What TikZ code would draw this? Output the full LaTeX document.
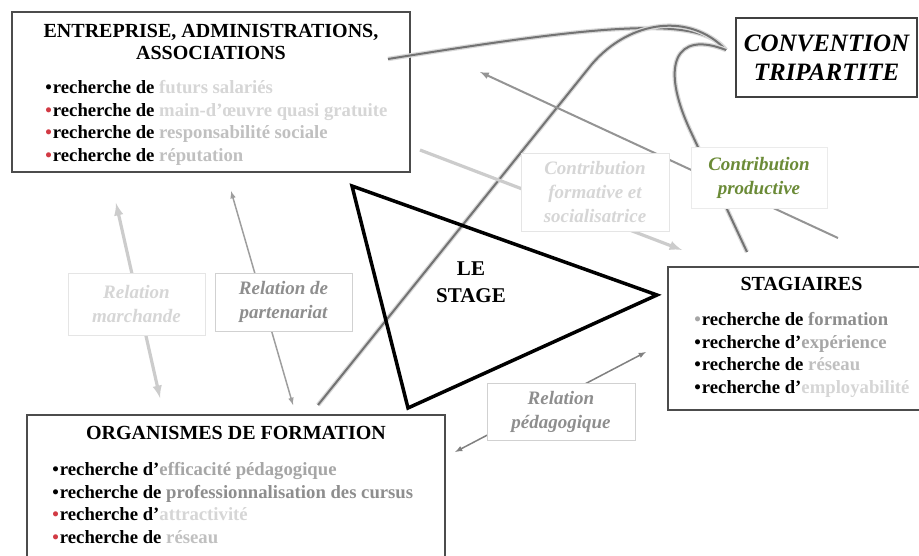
\documentclass[tikz,border=0pt]{standalone}
\usepackage{fontspec}
\setmainfont{Liberation Serif}
\usetikzlibrary{positioning}

\definecolor{rougepuce}{HTML}{D23A44}
\definecolor{vertprod}{HTML}{6B8B37}
\definecolor{grisA}{HTML}{D6D6D6}
\definecolor{grisB}{HTML}{C0C0C0}
\definecolor{grisC}{HTML}{A6A6A6}
\definecolor{grisD}{HTML}{8E8E8E}

\newcommand{\puce}[1]{\textcolor{#1}{\textbullet}\kern1pt}
\newcommand{\cle}[2]{\textcolor{#1}{#2}}

\tikzset{
  cadre/.style={draw=black!70, line width=1.6pt, fill=white, inner sep=0pt},
  titre/.style={font=\fontsize{20}{22.5}\selectfont\bfseries, align=center, inner sep=0pt},
  liste/.style={font=\fontsize{18.7}{22.5}\selectfont\bfseries, align=left, inner sep=0pt},
  etiquette/.style={draw=black!18, line width=0.8pt, fill=white, inner sep=0pt,
    font=\fontsize{19}{24}\selectfont\bfseries\itshape, align=center},
  convention/.style={draw=black!55, line width=2pt, preaction={draw=black!15, line width=4.5pt}},
}

\begin{document}
\begin{tikzpicture}[x=1pt,y=-1pt]
\useasboundingbox (0,0) rectangle (919,556);
\clip (0,0) rectangle (919,556);

% les trois acteurs
\node[cadre, minimum width=398pt, minimum height=160pt] (entreprise) at (211,92) {};
\node[titre, below=12.5pt of entreprise.north] (titreE) {ENTREPRISE, ADMINISTRATIONS,\\ASSOCIATIONS};
\node[liste, below right=69pt and 34pt of entreprise.north west] (listeE) {%
  \puce{black}recherche de \cle{grisA}{futurs salariés}\\
  \puce{rougepuce}recherche de \cle{grisA}{main-d’œuvre quasi gratuite}\\
  \puce{rougepuce}recherche de \cle{grisB}{responsabilité sociale}\\
  \puce{rougepuce}recherche de \cle{grisB}{réputation}};

\node[cadre, minimum width=267pt, minimum height=143pt] (stagiaires) at (801.5,338.5) {};
\node[titre, below=10.7pt of stagiaires.north] (titreS) {STAGIAIRES};
\node[liste, below right=46pt and 27pt of stagiaires.north west] (listeS) {%
  \puce{grisC}recherche de \cle{grisD}{formation}\\
  \puce{black}recherche d’\cle{grisC}{expérience}\\
  \puce{black}recherche de \cle{grisB}{réseau}\\
  \puce{black}recherche d’\cle{grisA}{employabilité}};

\node[cadre, minimum width=418pt, minimum height=160pt] (organismes) at (236,495) {};
\node[titre, below=11.7pt of organismes.north] (titreO) {ORGANISMES DE FORMATION};
\node[liste, below right=48pt and 26pt of organismes.north west] (listeO) {%
  \puce{black}recherche d’\cle{grisC}{efficacité pédagogique}\\
  \puce{black}recherche de \cle{grisD}{professionnalisation des cursus}\\
  \puce{rougepuce}recherche d’\cle{grisA}{attractivité}\\
  \puce{rougepuce}recherche de \cle{grisB}{réseau}};

\node[draw=black!75, line width=1.4pt, minimum width=181pt, minimum height=79pt, inner sep=0pt,
  font=\fontsize{25}{29}\selectfont\bfseries\itshape, align=center] (tripartite) at (826.5,57.5)
  {CONVENTION\\TRIPARTITE};

% extremites des liens
\coordinate (pointe) at (726,50);
\coordinate (depE) at (388,59);
\coordinate (depO) at (318,405);
\coordinate (depS) at (747,252);
\coordinate (marchH) at (116,203);
\coordinate (marchB) at (160,398);
\coordinate (partH) at (231,191);
\coordinate (partB) at (293,405);
\coordinate (pedaO) at (455,452);
\coordinate (pedaS) at (646,352);
\coordinate (formE) at (420,150);
\coordinate (formS) at (682,250);
\coordinate (prodS) at (838,238);
\coordinate (prodE) at (480,72);

% la convention tripartite relie les trois acteurs
\draw[convention] (depE) .. controls (600,25) and (700,15) .. (pointe);
\draw[convention] (depO) -- (592,64) .. controls (630,20) and (690,12) .. (pointe);
\draw[convention] (depS) -- (690,130) .. controls (660,65) and (675,30) .. (pointe);

% les relations
\draw[latex-latex, line width=3.2pt, draw=black!20] (marchH) -- (marchB);
\draw[latex-latex, line width=1.5pt, draw=black!38] (partH) -- (partB);
\draw[latex-latex, line width=1.5pt, draw=black!50] (pedaO) -- (pedaS);
\draw[-latex, line width=3.2pt, draw=black!20] (formE) -- (formS);
\draw[-latex, line width=2pt, draw=black!42] (prodS) -- (prodE);

\node[etiquette, draw=black!10, text=grisA, minimum width=137pt, minimum height=62pt] (marchande) at (136.5,304) {Relation\\marchande};
\node[etiquette, text=grisD, minimum width=137pt, minimum height=58pt] (partenariat) at (283.5,302) {Relation de\\partenariat};
\node[etiquette, text=grisD, minimum width=148pt, minimum height=57pt] (pedagogique) at (561,411.5) {Relation\\pédagogique};
\node[etiquette, draw=black!10, text=grisA, minimum width=148pt, minimum height=78pt] (formative) at (595,192) {Contribution\\formative et\\socialisatrice};
\node[etiquette, draw=black!8, text=vertprod, minimum width=136pt, minimum height=61pt] (productive) at (759,177.5) {Contribution\\productive};

% le triangle du stage
\draw[line width=3.5pt, line join=miter] (352,186) -- (657,295) -- (408,408) -- cycle;
\node[font=\fontsize{21}{27}\selectfont\bfseries, align=center] (stage) at (471,282) {LE\\STAGE};

\end{tikzpicture}
\end{document}
